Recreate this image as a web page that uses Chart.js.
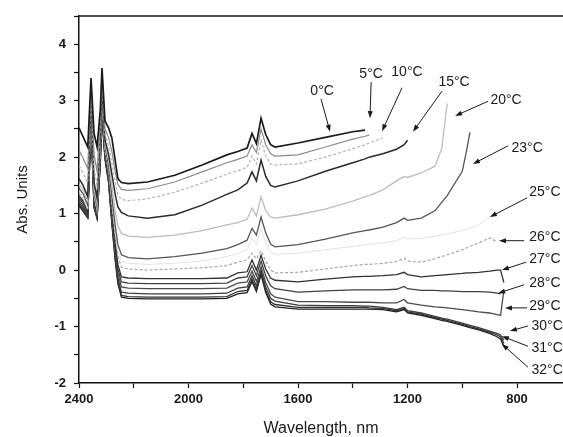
<!DOCTYPE html>
<html>
<head>
<meta charset="utf-8">
<script src="https://cdn.jsdelivr.net/npm/chart.js@4/dist/chart.umd.min.js"></script>
<style>
  body { margin: 0; background: #fff; }
  #wrap { width: 563px; height: 437px; }
</style>
</head>
<body>
<div id="wrap"><canvas id="myChart"></canvas></div>
<script>
// wavelength grid (nm), shared by all spectra
let wavelengths = [
  2400, 2385, 2368, 2356, 2345, 2334, 2322, 2316,
  2305, 2292, 2280, 2268, 2258, 2245, 2220, 2150,
  2050, 1950, 1860, 1820, 1786, 1768, 1752, 1735,
  1718, 1700, 1684, 1600, 1500, 1400, 1355, 1340,
  1290, 1240, 1212, 1200, 1150, 1100, 1075, 1055,
  1000, 985, 972, 940, 900, 873, 860, 848
];

// axis ticks (every 200 nm, labelled every 400 nm)
let xTicks = [800, 1000, 1200, 1400, 1600, 1800, 2000, 2200, 2400];

let temps = ['0°C', '5°C', '10°C', '15°C', '20°C', '23°C', '25°C', '26°C', '27°C', '28°C', '29°C', '30°C', '31°C', '32°C'];

// absorbance, one list per temperature (null = no data)
let abs0 = [
  2.52, 2.36, 2.18, 3.40, 2.42, 2.18, 2.85, 3.58,
  2.64, 2.52, 2.34, 1.95, 1.62, 1.55, 1.53, 1.56,
  1.68, 1.86, 2.04, 2.10, 2.16, 2.42, 2.24, 2.69,
  2.40, 2.22, 2.18, 2.25, 2.35, 2.45, 2.48, null,
  null, null, null, null, null, null, null, null,
  null, null, null, null, null, null, null, null
];
let abs5 = [
  2.12, 1.98, 1.80, 3.25, 2.05, 1.75, 2.70, 3.45,
  2.50, 2.35, 2.10, 1.75, 1.52, 1.43, 1.41, 1.44,
  1.56, 1.74, 1.90, 1.96, 2.02, 2.22, 2.08, 2.50,
  2.22, 2.06, 2.02, 2.04, 2.18, 2.32, 2.37, 2.39,
  null, null, null, null, null, null, null, null,
  null, null, null, null, null, null, null, null
];
let abs10 = [
  1.85, 1.72, 1.55, 3.15, 1.80, 1.50, 2.55, 3.35,
  2.40, 2.20, 1.90, 1.55, 1.33, 1.25, 1.23, 1.26,
  1.38, 1.54, 1.70, 1.76, 1.82, 2.02, 1.88, 2.30,
  2.02, 1.88, 1.86, 1.88, 2.00, 2.15, 2.22, 2.25,
  2.34, null, null, null, null, null, null, null,
  null, null, null, null, null, null, null, null
];
let abs15 = [
  1.62, 1.50, 1.30, 3.05, 1.55, 1.28, 2.40, 3.25,
  2.30, 2.05, 1.70, 1.35, 1.12, 1.02, 0.96, 0.92,
  0.98, 1.15, 1.34, 1.42, 1.54, 1.74, 1.58, 1.95,
  1.66, 1.50, 1.47, 1.58, 1.75, 1.90, 1.97, 2.00,
  2.06, 2.14, 2.22, 2.30, null, null, null, null,
  null, null, null, null, null, null, null, null
];
let abs20 = [
  1.52, 1.42, 1.22, 3.00, 1.45, 1.18, 2.30, 3.15,
  2.25, 1.95, 1.50, 1.05, 0.78, 0.65, 0.60, 0.58,
  0.62, 0.70, 0.80, 0.84, 0.90, 1.10, 0.96, 1.30,
  1.05, 0.94, 0.92, 0.98, 1.08, 1.22, 1.30, 1.32,
  1.42, 1.58, 1.66, 1.64, 1.72, 1.84, 2.15, 2.95,
  null, null, null, null, null, null, null, null
];
let abs23 = [
  1.45, 1.35, 1.15, 2.95, 1.38, 1.12, 2.25, 3.10,
  2.20, 1.85, 1.30, 0.80, 0.45, 0.27, 0.22, 0.20,
  0.24, 0.30, 0.38, 0.45, 0.53, 0.74, 0.62, 0.94,
  0.66, 0.46, 0.41, 0.45, 0.55, 0.66, 0.70, 0.71,
  0.76, 0.84, 0.92, 0.88, 0.92, 1.05, 1.20, 1.32,
  1.75, 2.10, 2.44, null, null, null, null, null
];
let abs25 = [
  1.40, 1.30, 1.10, 2.90, 1.34, 1.08, 2.20, 3.05,
  2.15, 1.80, 1.22, 0.70, 0.35, 0.16, 0.12, 0.10,
  0.12, 0.16, 0.24, 0.30, 0.36, 0.56, 0.44, 0.74,
  0.48, 0.32, 0.28, 0.30, 0.36, 0.42, 0.45, 0.46,
  0.48, 0.52, 0.58, 0.55, 0.56, 0.60, 0.62, 0.64,
  0.70, 0.72, 0.74, 0.80, 0.94, null, null, null
];
let abs26 = [
  1.36, 1.26, 1.06, 2.85, 1.30, 1.04, 2.15, 3.00,
  2.10, 1.75, 1.15, 0.60, 0.25, 0.05, 0.02, 0.00,
  0.02, 0.04, 0.08, 0.14, 0.18, 0.30, 0.20, 0.34,
  0.16, 0.00, -0.05, -0.04, 0.02, 0.08, 0.10, 0.10,
  0.12, 0.15, 0.21, 0.16, 0.14, 0.20, 0.24, 0.27,
  0.36, 0.39, 0.42, 0.48, 0.57, 0.50, null, null
];
let abs27 = [
  1.32, 1.22, 1.02, 2.80, 1.26, 1.00, 2.10, 2.95,
  2.08, 1.72, 1.08, 0.50, 0.10, -0.12, -0.14, -0.15,
  -0.15, -0.15, -0.14, -0.05, -0.03, 0.18, 0.00, 0.26,
  0.02, -0.14, -0.18, -0.21, -0.16, -0.12, -0.11, -0.11,
  -0.10, -0.08, -0.04, -0.08, -0.12, -0.10, -0.09, -0.08,
  -0.06, -0.05, -0.05, -0.04, -0.02, 0.00, 0.00, -0.22
];
let abs28 = [
  1.28, 1.18, 0.99, 2.75, 1.22, 0.97, 2.05, 2.90,
  2.05, 1.68, 1.02, 0.42, 0.02, -0.21, -0.23, -0.24,
  -0.24, -0.24, -0.23, -0.14, -0.12, 0.08, -0.10, 0.16,
  -0.10, -0.28, -0.33, -0.39, -0.37, -0.35, -0.35, -0.35,
  -0.35, -0.34, -0.29, -0.33, -0.36, -0.36, -0.37, -0.37,
  -0.38, -0.38, -0.38, -0.38, -0.39, -0.41, -0.42, null
];
let abs29 = [
  1.24, 1.14, 0.96, 2.70, 1.18, 0.95, 2.00, 2.85,
  2.02, 1.64, 0.96, 0.35, -0.06, -0.30, -0.32, -0.33,
  -0.33, -0.33, -0.32, -0.23, -0.21, -0.02, -0.20, 0.06,
  -0.22, -0.42, -0.48, -0.56, -0.56, -0.57, -0.57, -0.57,
  -0.58, -0.58, -0.52, -0.58, -0.62, -0.65, -0.66, -0.67,
  -0.70, -0.71, -0.72, -0.74, -0.76, -0.79, -0.80, -0.35
];
let abs30 = [
  1.20, 1.10, 0.94, 2.65, 1.14, 0.93, 1.95, 2.80,
  2.00, 1.60, 0.90, 0.28, -0.14, -0.39, -0.41, -0.42,
  -0.42, -0.42, -0.41, -0.32, -0.30, -0.10, -0.28, 0.00,
  -0.30, -0.50, -0.55, -0.62, -0.63, -0.63, -0.64, -0.64,
  -0.66, -0.70, -0.66, -0.72, -0.76, -0.82, -0.85, -0.87,
  -0.94, -0.96, -0.98, -1.02, -1.08, -1.12, -1.15, -1.24
];
let abs31 = [
  1.17, 1.07, 0.93, 2.60, 1.12, 0.92, 1.92, 2.75,
  1.98, 1.57, 0.85, 0.22, -0.20, -0.45, -0.47, -0.48,
  -0.48, -0.48, -0.47, -0.38, -0.36, -0.16, -0.34, -0.04,
  -0.36, -0.56, -0.61, -0.66, -0.66, -0.66, -0.66, -0.67,
  -0.68, -0.72, -0.68, -0.74, -0.78, -0.84, -0.87, -0.89,
  -0.96, -0.98, -1.00, -1.04, -1.10, -1.15, -1.18, -1.30
];
let abs32 = [
  1.14, 1.04, 0.92, 2.55, 1.10, 0.91, 1.90, 2.70,
  1.96, 1.55, 0.82, 0.18, -0.24, -0.48, -0.50, -0.51,
  -0.51, -0.51, -0.50, -0.42, -0.40, -0.20, -0.38, -0.08,
  -0.40, -0.60, -0.65, -0.69, -0.69, -0.69, -0.69, -0.69,
  -0.70, -0.74, -0.70, -0.76, -0.80, -0.86, -0.89, -0.91,
  -0.98, -1.00, -1.02, -1.06, -1.12, -1.18, -1.22, -1.36
];

let spectra = [abs0, abs5, abs10, abs15, abs20, abs23, abs25, abs26, abs27, abs28, abs29, abs30, abs31, abs32];

// line look per temperature
let colors = ['#1a1a1a', '#8a8a8a', '#b4b4b4', '#2a2a2a', '#bcbcbc', '#555555', '#e2e2e2',
              '#a6a6a6', '#303030', '#404040', '#4a4a4a', '#3a3a3a', '#303030', '#202020'];
let widths = [1.7, 1.2, 1.2, 1.5, 1.3, 1.3, 1.0, 1.2, 1.3, 1.3, 1.3, 1.3, 1.3, 1.3];

// label centres and arrows, in data units (wavelength, abs)
let labelPos  = [[1512, 3.17], [1333, 3.47], [1202, 3.51], [1030, 3.33], [840, 3.01], [763, 2.16], [698, 1.38],
                 [698, 0.59], [698, 0.20], [698, -0.23], [698, -0.64], [690, -0.99], [690, -1.38], [690, -1.77]];
let arrowFrom = [[1516, 3.03], [1333, 3.33], [1220, 3.23], [1074, 3.17], [906, 2.99], [833, 2.20], [763, 1.28],
                 [774, 0.52], [767, 0.14], [774, -0.26], [763, -0.67], [760, -0.99], [760, -1.35], [760, -1.72]];
let arrowTo   = [[1483, 2.45], [1337, 2.69], [1293, 2.46], [1180, 2.45], [1026, 2.73], [961, 1.88], [899, 0.94],
                 [866, 0.52], [855, 0.00], [869, -0.41], [844, -0.67], [826, -1.08], [855, -1.17], [855, -1.31]];

let FONT = "'Liberation Sans', Arial, sans-serif";

let datasets = spectra.map(function (vals, i) {
    return {
        label: temps[i],
        data: wavelengths.map(function (w, j) { return { x: w, y: vals[j] }; })
                         .filter(function (p) { return p.y !== null; }),
        borderColor: colors[i],
        borderWidth: widths[i],
        borderDash: (i === 2 || i === 7) ? [3, 2] : [],
        pointRadius: 0,
        tension: 0,
        fill: false
    };
});

let labelsPlugin = {
    id: 'tempLabels',
    afterDatasetsDraw: function (chart) {
        let c = chart.ctx, xs = chart.scales.x, ys = chart.scales.y, a = chart.chartArea;
        c.save();
        // top frame line
        c.strokeStyle = '#111';
        c.lineWidth = 1.5;
        c.beginPath();
        c.moveTo(a.left, a.top);
        c.lineTo(a.right, a.top);
        c.stroke();

        c.fillStyle = '#1a1a1a';
        c.strokeStyle = '#1a1a1a';
        c.font = '14px ' + FONT;
        c.textAlign = 'center';
        c.textBaseline = 'middle';
        temps.forEach(function (t, i) {
            c.fillText(t, xs.getPixelForValue(labelPos[i][0]), ys.getPixelForValue(labelPos[i][1]));
            let x1 = xs.getPixelForValue(arrowFrom[i][0]), y1 = ys.getPixelForValue(arrowFrom[i][1]);
            let x2 = xs.getPixelForValue(arrowTo[i][0]), y2 = ys.getPixelForValue(arrowTo[i][1]);
            let ang = Math.atan2(y2 - y1, x2 - x1);
            c.lineWidth = 1;
            c.beginPath();
            c.moveTo(x1, y1);
            c.lineTo(x2 - 5 * Math.cos(ang), y2 - 5 * Math.sin(ang));
            c.stroke();
            c.beginPath();
            c.moveTo(x2, y2);
            c.lineTo(x2 - 7 * Math.cos(ang) + 2.5 * Math.sin(ang), y2 - 7 * Math.sin(ang) - 2.5 * Math.cos(ang));
            c.lineTo(x2 - 7 * Math.cos(ang) - 2.5 * Math.sin(ang), y2 - 7 * Math.sin(ang) + 2.5 * Math.cos(ang));
            c.closePath();
            c.fill();
        });
        c.restore();
    }
};

let ctx = document.getElementById('myChart').getContext('2d');

let chart = new Chart(ctx, {
    type: 'line',
    data: { datasets: datasets },
    plugins: [labelsPlugin],
    options: {
        responsive: true,
        maintainAspectRatio: false,
        animation: false,
        layout: { padding: { top: 16, right: 0, left: 0, bottom: 0 } },
        plugins: { legend: { display: false }, tooltip: { enabled: false } },
        scales: {
            x: {
                type: 'linear',
                reverse: true,
                min: 632,
                max: 2400,
                afterFit: function (s) { s.height = 54; },
                afterBuildTicks: function (s) {
                    s.ticks = xTicks.map(function (v) { return { value: v }; });
                },
                border: { display: true, color: '#111', width: 1.5 },
                grid: { drawOnChartArea: false, drawTicks: true, tickLength: 5, tickColor: '#111', tickWidth: 1.2 },
                ticks: {
                    autoSkip: false,
                    maxRotation: 0,
                    padding: 4,
                    color: '#1a1a1a',
                    font: { family: FONT, size: 13, weight: 'bold' },
                    callback: function (v) { return v % 400 === 0 ? String(v) : ''; }
                },
                title: {
                    display: true,
                    text: 'Wavelength, nm',
                    color: '#1a1a1a',
                    padding: { top: 0, bottom: 0 },
                    font: { family: FONT, size: 16, lineHeight: 1 }
                }
            },
            y: {
                min: -2,
                max: 4.5,
                afterFit: function (s) { s.width = 79; },
                border: { display: true, color: '#111', width: 1.5 },
                grid: { drawOnChartArea: false, drawTicks: true, tickLength: 5, tickColor: '#111', tickWidth: 1.2 },
                ticks: {
                    stepSize: 0.5,
                    autoSkip: false,
                    padding: 8,
                    color: '#1a1a1a',
                    font: { family: FONT, size: 13, weight: 'bold' },
                    callback: function (v) { return Number.isInteger(v) ? String(v) : ''; }
                },
                title: {
                    display: true,
                    text: 'Abs. Units',
                    color: '#1a1a1a',
                    padding: { top: 14, bottom: 0 },
                    font: { family: FONT, size: 15 }
                }
            }
        }
    }
});
</script>
</body>
</html>
